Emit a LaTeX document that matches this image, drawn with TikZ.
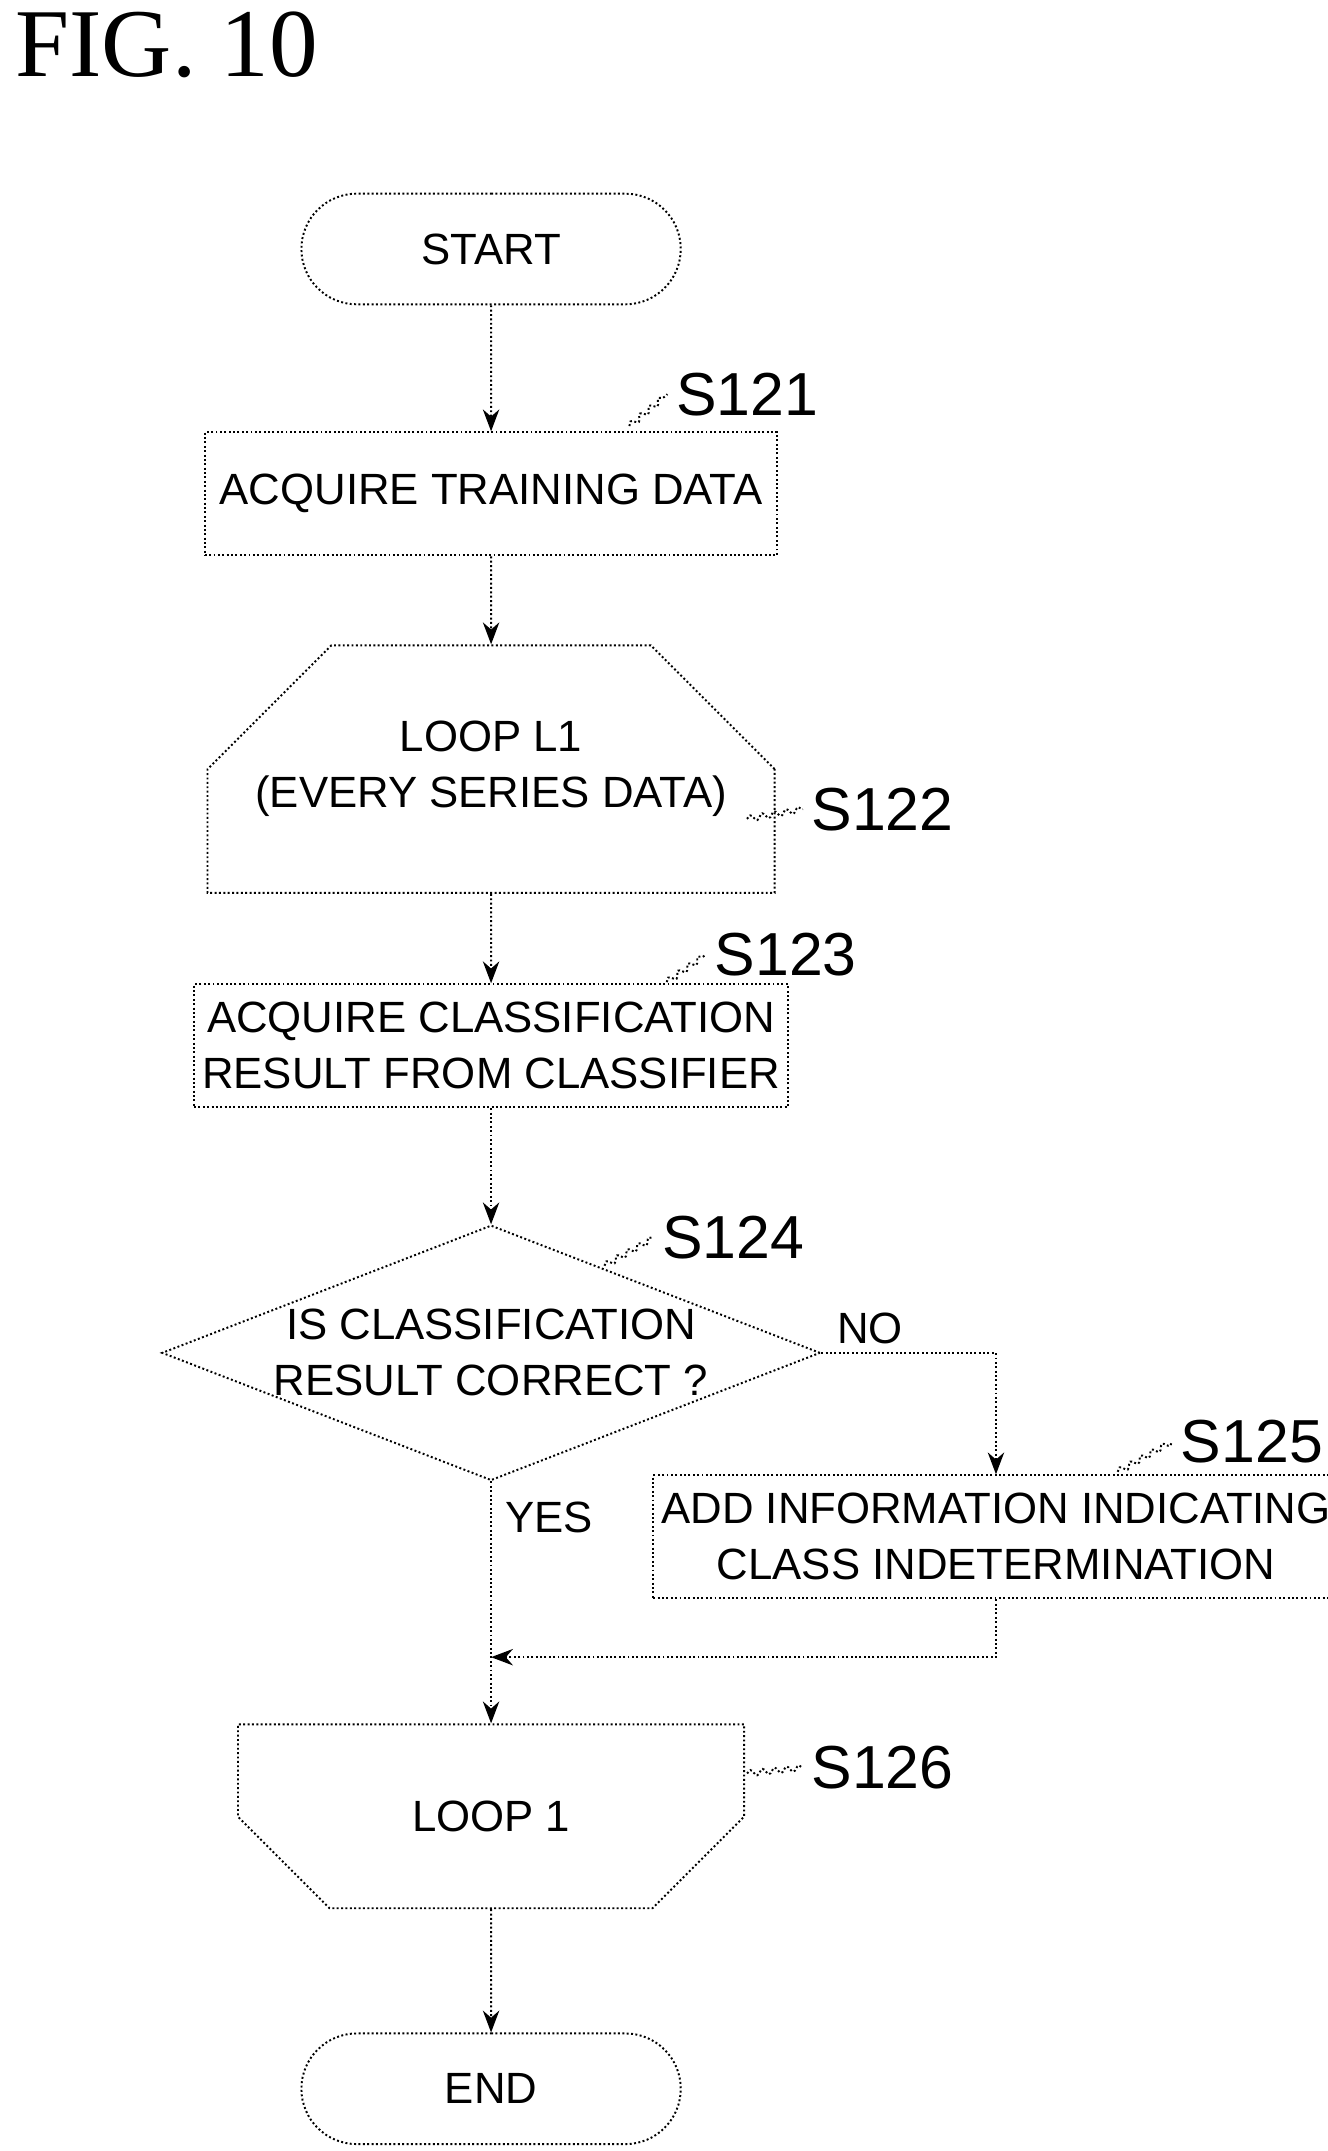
\documentclass[tikz,border=0pt]{standalone}
\usepackage{fontspec}
\setmainfont{Liberation Sans}
\newfontfamily\titlefont{Liberation Serif}
\usetikzlibrary{positioning}
\usetikzlibrary{shapes.misc,shapes.geometric}
\usetikzlibrary{arrows.meta}
\usetikzlibrary{decorations.pathmorphing}
\tikzset{every node/.style={align=center, font=\fontsize{18}{23}\selectfont},
         terminal/.style={draw, thick, densely dotted, rounded rectangle,
           minimum width=5.72cm, minimum height=1.6cm},
         process/.style={draw, thick, densely dotted, rectangle,
           minimum width=8.28cm, minimum height=1.78cm},
         loopstart/.style={draw, thick, densely dotted, chamfered rectangle,
           chamfered rectangle corners={north west,north east},
           chamfered rectangle xsep=0.92cm, chamfered rectangle ysep=1.1cm,
           minimum width=7.32cm, minimum height=2.66cm, inner sep=0pt},
         loopend/.style={loopstart,
           chamfered rectangle corners={south west,south east}},
         decision/.style={draw, thick, densely dotted, diamond, aspect=2.58,
           minimum width=9.04cm, minimum height=3.5cm, inner sep=0pt},
         steplabel/.style={font=\fontsize{25}{30}\selectfont},
         wave/.style={thick, densely dotted, decorate,
           decoration={snake, amplitude=1.2pt, segment length=5pt}},
         flow/.style={draw, thick, densely dotted, -{Stealth[length=9pt]}}}

\begin{document}
\begin{tikzpicture}[x=0.02cm, y=-0.02cm]
  \useasboundingbox (0,0) rectangle (960,1555);

  \node [anchor=north west, font=\titlefont\fontsize{40}{44}\selectfont] (fig) at (5,2) {FIG. 10};

  \node [terminal] (start) at (355,180) {START};
  \node [process] (s121) at (355,357) {ACQUIRE TRAINING DATA};
  \node [loopstart] (s122) at (355,556) {LOOP L1\\(EVERY SERIES DATA)};
  \node [process] (s123) at (355,756) {ACQUIRE CLASSIFICATION\\RESULT FROM CLASSIFIER};
  \node [decision] (s124) at (355,978) {IS CLASSIFICATION\\RESULT CORRECT ?};
  \node [process, minimum width=9.3cm] (s125) at (720,1111) {ADD INFORMATION INDICATING\\CLASS INDETERMINATION};
  \node [loopend] (s126) at (355,1313) {LOOP 1};
  \node [terminal] (stop) at (355,1510) {END};

  % step labels
  \node [steplabel] (l121) at (540,285) {S121};
  \node [steplabel] (l122) at (638,585) {S122};
  \node [steplabel] (l123) at (568,690) {S123};
  \node [steplabel] (l124) at (530,895) {S124};
  \node [steplabel] (l125) at (905,1042) {S125};
  \node [steplabel] (l126) at (638,1278) {S126};
  \draw [wave] (455,308) -- (l121.west);
  \draw [wave] (540,592) -- (l122.west);
  \draw [wave] (482,710) -- (l123.west);
  \draw [wave] (437,915) -- (l124.west);
  \draw [wave] (808,1064) -- (l125.west);
  \draw [wave] (540,1282) -- (l126.west);

  % flow
  \draw [flow] (start) -- (s121);
  \draw [flow] (s121) -- (s122);
  \draw [flow] (s122) -- (s123);
  \draw [flow] (s123) -- (s124);
  \draw [flow] (s124.south) -- node [right=2pt, pos=0.15] {YES} (s126.north);
  \draw [flow] (s124.east) -- node [above, pos=0.28] {NO} (s124.east -| s125.north) -- (s125.north);
  \coordinate (join) at (355,1198);
  \draw [flow] (s125.south) |- (join);
  \draw [flow] (s126) -- (stop);
\end{tikzpicture}
\end{document}
